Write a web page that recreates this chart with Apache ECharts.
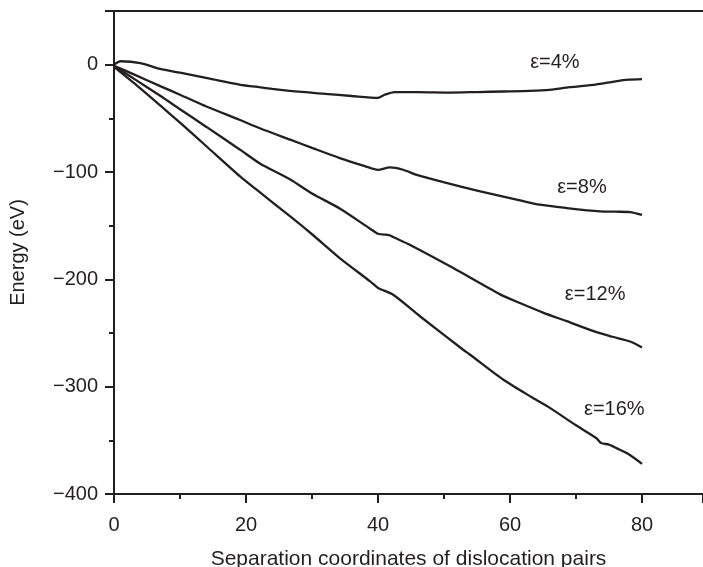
<!DOCTYPE html>
<html>
<head>
<meta charset="utf-8">
<script src="https://cdn.jsdelivr.net/npm/echarts@6/dist/echarts.min.js"></script>
<style>html,body{margin:0;padding:0;background:#fff;}#c{width:703px;height:567px;}</style>
</head>
<body>
<div id="c"></div>
<script>
// ---- data ----
var x4 = [0, 1, 4, 7, 10, 14.5, 19, 22, 24, 28, 32, 36, 40, 41, 42.5, 46, 51, 55, 59, 63, 66, 69, 73, 76, 78, 80];
var y4 = [0, 3.2, 1.5, -4, -7.5, -13, -18.5, -21, -22.5, -25.2, -27.2, -29.2, -31, -28, -25.5, -25.5, -26, -25.5, -25, -24.5, -23.5, -21, -18.5, -15.5, -14, -13.5];

var x8 = [0, 3, 7, 10, 14, 19, 22, 26.7, 30, 34.2, 38, 40, 41.8, 43.8, 46, 49.9, 55.5, 61.5, 64.5, 68.6, 73.6, 76, 78.2, 80];
var y8 = [-1, -9, -20, -28, -39, -51.3, -59, -69.9, -77.5, -87, -94.5, -98, -95.7, -97.9, -103, -109.4, -118.1, -126.5, -130.5, -133.6, -136.7, -137, -137.3, -140];

var x12 = [0, 3, 7, 10, 14, 19.1, 22.1, 26.7, 30, 34.2, 38.8, 40, 41.8, 42.3, 44.8, 51.4, 58.5, 61.5, 65, 68.6, 73, 75.5, 78.2, 80];
var y12 = [-1.5, -13, -29, -41.5, -58, -79.2, -92, -107, -120, -134, -152.8, -157.5, -159, -160.6, -167.8, -189.5, -214, -222.1, -231, -239, -249, -253.5, -257.9, -263.5];

var x16 = [0, 3, 7, 10, 14, 19.1, 21.6, 26.7, 30, 34.2, 38.8, 40, 42.3, 46.4, 52.9, 53.9, 59, 63.5, 66.1, 70, 73.1, 73.8, 75, 76.2, 78, 80];
var y16 = [-2, -17, -38, -54, -76, -104.1, -116.5, -141.4, -158, -180.2, -201.9, -208, -214.4, -234.6, -265.6, -270, -293.6, -310.6, -320, -336, -348, -352.5, -354, -357.5, -363, -372];

var labelTexts = ['\u03b5=4%', '\u03b5=8%', '\u03b5=12%', '\u03b5=16%'];
var labelX = [66.8, 70.9, 72.9, 75.8];
var labelY = [2.3, -114.2, -213.9, -321.5];

var xTicks = [0, 20, 40, 60, 80];
var yTicks = [-400, -300, -200, -100, 0];

// ---- chart ----
var FONT = '"Liberation Sans", Arial, Helvetica, sans-serif';
var INK = '#231f20';
function pairs(xs, ys) { return xs.map(function (x, i) { return [x, ys[i]]; }); }

var allX = [x4, x8, x12, x16];
var allY = [y4, y8, y12, y16];
var series = allX.map(function (xs, k) {
  return {
    type: 'line',
    data: pairs(xs, allY[k]),
    showSymbol: false,
    symbol: 'none',
    smooth: 0.25,
    lineStyle: { color: INK, width: 2.3 },
    silent: true,
    markPoint: {
      symbol: 'circle', symbolSize: 0,
      label: {
        show: true, position: 'inside', formatter: labelTexts[k],
        color: INK, fontSize: 20, fontFamily: FONT
      },
      data: [{ coord: [labelX[k], labelY[k]] }]
    }
  };
});

var chart = echarts.init(document.getElementById('c'), null, { renderer: 'canvas' });
chart.setOption({
  animation: false,
  backgroundColor: '#ffffff',
  grid: { left: 114, top: 11, right: 0, bottom: 73, containLabel: false, outerBoundsMode: 'none' },
  xAxis: [{
    type: 'value', min: 0, max: 89.24, interval: 20, position: 'bottom',
    name: 'Separation coordinates of dislocation pairs',
    nameLocation: 'middle', nameGap: 55,
    nameTextStyle: { fontSize: 21, color: INK, fontFamily: FONT },
    axisLine: { show: true, onZero: false, lineStyle: { color: INK, width: 2 } },
    axisTick: { show: true, length: 9, lineStyle: { color: INK, width: 2 } },
    minorTick: { show: true, splitNumber: 2, length: 5, lineStyle: { color: INK, width: 2 } },
    axisLabel: {
      margin: 21, fontSize: 20, color: INK, fontFamily: FONT, showMaxLabel: false,
      formatter: function (v) { return xTicks.indexOf(v) >= 0 ? String(v) : ''; }
    },
    splitLine: { show: false }
  }, {
    type: 'value', position: 'top', min: 0, max: 89.24,
    axisLine: { show: true, onZero: false, lineStyle: { color: INK, width: 2 } },
    axisTick: { show: false }, axisLabel: { show: false }, splitLine: { show: false }
  }],
  yAxis: {
    type: 'value', min: -400, max: 50, interval: 100,
    name: 'Energy (eV)', nameLocation: 'middle', nameGap: 86,
    nameTextStyle: { fontSize: 20, color: INK, fontFamily: FONT },
    axisLine: { show: true, onZero: false, lineStyle: { color: INK, width: 2 } },
    axisTick: { show: true, length: 9, lineStyle: { color: INK, width: 2 } },
    minorTick: { show: true, splitNumber: 2, length: 5, lineStyle: { color: INK, width: 2 } },
    axisLabel: {
      margin: 16, fontSize: 20, color: INK, fontFamily: FONT, showMaxLabel: false,
      formatter: function (v) {
        if (yTicks.indexOf(v) < 0) return '';
        return v < 0 ? '\u2212' + Math.abs(v) : String(v);
      }
    },
    splitLine: { show: false }
  },
  series: series
});
</script>
</body>
</html>
